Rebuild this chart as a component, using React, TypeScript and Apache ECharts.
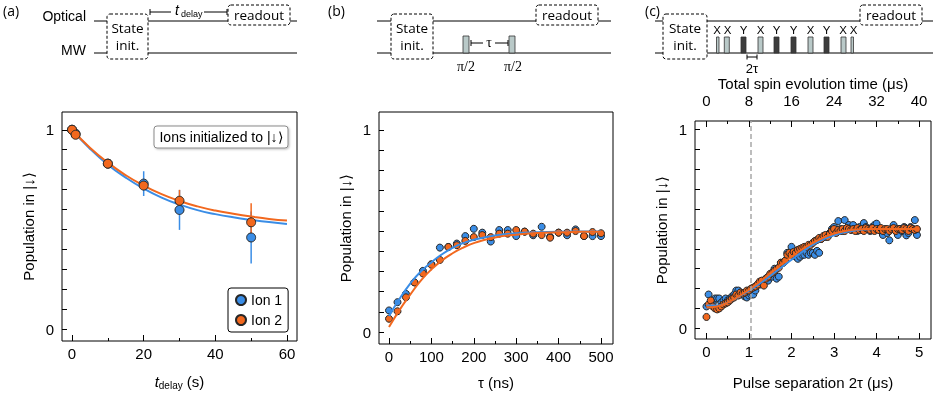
import React, { useEffect, useRef } from "react";
import * as echarts from "echarts";

const SANS = "'Liberation Sans', Arial, Helvetica, sans-serif";
const SCHEM = "'Open Sans', 'Noto Sans', sans-serif";
const SERIF = "'Liberation Serif', 'DejaVu Serif', serif";
const BLUE = "#3A8DE6";
const ORANGE = "#F2681E";
const EDGE = "#262626";

// ---------- Panel (a)
const aDelay = [0, 1, 10, 20, 30, 50];
const aIon1 = [1.0, 0.98, 0.83, 0.73, 0.598, 0.46];
const aIon2 = [1.0, 0.975, 0.83, 0.72, 0.644, 0.536];
const aIon1Err = [0, 0, 0, 0.062, 0.1, 0.13];
const aIon2Err = [0, 0, 0, 0.02, 0.055, 0.095];
const aFitDelay = [0, 5, 10, 15, 20, 25, 30, 35, 40, 45, 50, 55, 60];
const aFitIon1 = [1.0, 0.905, 0.825, 0.76, 0.705, 0.66, 0.625, 0.597, 0.577, 0.561, 0.548, 0.537, 0.528];
const aFitIon2 = [1.0, 0.91, 0.835, 0.772, 0.72, 0.677, 0.643, 0.616, 0.595, 0.579, 0.565, 0.553, 0.545];
const aXTicks = [0, 20, 40, 60];
const aXMinor = [10, 30, 50];

// ---------- Panel (b)
const bTau = [0, 20, 40, 60, 80, 100, 120, 140, 160, 180, 200, 220, 240, 260, 280, 300, 320, 340, 360, 380, 400, 420, 440, 460, 480, 500];
const bIon1 = [0.107, 0.148, 0.189, 0.246, 0.303, 0.336, 0.418, 0.421, 0.438, 0.475, 0.511, 0.492, 0.448, 0.505, 0.505, 0.475, 0.497, 0.479, 0.521, 0.472, 0.492, 0.479, 0.508, 0.475, 0.475, 0.475];
const bIon2 = [0.066, 0.103, 0.172, 0.246, 0.29, 0.333, 0.357, 0.421, 0.43, 0.451, 0.47, 0.48, 0.47, 0.487, 0.487, 0.505, 0.497, 0.487, 0.48, 0.467, 0.492, 0.492, 0.5, 0.475, 0.495, 0.489];
const bFitTau = [0, 25, 50, 75, 100, 125, 150, 175, 200, 250, 300, 350, 400, 450, 500];
const bFitIon1 = [0.08, 0.165, 0.24, 0.3, 0.345, 0.385, 0.417, 0.44, 0.457, 0.478, 0.489, 0.494, 0.497, 0.498, 0.498];
const bFitIon2 = [0.025, 0.11, 0.185, 0.255, 0.31, 0.355, 0.39, 0.418, 0.44, 0.468, 0.482, 0.49, 0.494, 0.496, 0.497];
const bXTicks = [0, 100, 200, 300, 400, 500];
const bXMinor = [50, 150, 250, 350, 450];

// ---------- Panel (c)
const cSep = [0, 0.05, 0.1, 0.15, 0.2, 0.25, 0.3, 0.35, 0.4, 0.45, 0.5, 0.55, 0.6, 0.65, 0.7, 0.75, 0.8, 0.85, 0.9, 0.95, 1, 1.05, 1.1, 1.15, 1.2, 1.25, 1.3, 1.35, 1.4, 1.45, 1.5, 1.55, 1.6, 1.65, 1.7, 1.75, 1.8, 1.85, 1.9, 1.95, 2, 2.05, 2.1, 2.15, 2.2, 2.25, 2.3, 2.35, 2.4, 2.45, 2.5, 2.55, 2.6, 2.65, 2.7, 2.75, 2.8, 2.85, 2.9, 2.95, 3, 3.05, 3.1, 3.15, 3.2, 3.25, 3.3, 3.35, 3.4, 3.45, 3.5, 3.55, 3.6, 3.65, 3.7, 3.75, 3.8, 3.85, 3.9, 3.95, 4, 4.05, 4.1, 4.15, 4.2, 4.25, 4.3, 4.35, 4.4, 4.45, 4.5, 4.55, 4.6, 4.65, 4.7, 4.75, 4.8, 4.85, 4.9, 4.95];
const cIon1 = [
  0.11, 0.17, 0.12, 0.13, 0.15, 0.15, 0.15, 0.13, 0.14, 0.15,
  0.14, 0.15, 0.16, 0.17, 0.19, 0.19, 0.18, 0.17, 0.16, 0.155,
  0.165, 0.17, 0.17, 0.19, 0.22, 0.22, 0.23, 0.24, 0.25, 0.24,
  0.26, 0.26, 0.3, 0.25, 0.26, 0.33, 0.33, 0.34, 0.38, 0.38,
  0.41, 0.37, 0.36, 0.35, 0.36, 0.37, 0.37, 0.38, 0.37, 0.38,
  0.38, 0.37, 0.39, 0.38, 0.45, 0.46, 0.46, 0.47, 0.48, 0.5,
  0.51, 0.49, 0.54, 0.5, 0.49, 0.545, 0.5, 0.52, 0.5, 0.52,
  0.5, 0.49, 0.51, 0.5, 0.53, 0.51, 0.5, 0.49, 0.51, 0.52,
  0.527, 0.5, 0.49, 0.47, 0.49, 0.48, 0.443, 0.5, 0.52, 0.49,
  0.47, 0.5, 0.49, 0.51, 0.468, 0.48, 0.51, 0.5, 0.545, 0.47,
];
const cIon2 = [
  0.057, 0.12, 0.14, 0.11, 0.1, 0.095, 0.1, 0.11, 0.12, 0.125,
  0.13, 0.14, 0.15, 0.155, 0.17, 0.165, 0.18, 0.175, 0.18, 0.19,
  0.19, 0.2, 0.205, 0.21, 0.22, 0.235, 0.24, 0.215, 0.25, 0.26,
  0.275, 0.28, 0.29, 0.3, 0.305, 0.33, 0.33, 0.34, 0.37, 0.38,
  0.37, 0.385, 0.38, 0.395, 0.4, 0.405, 0.41, 0.41, 0.42, 0.42,
  0.43, 0.44, 0.445, 0.455, 0.45, 0.465, 0.47, 0.46, 0.475, 0.49,
  0.5, 0.48, 0.495, 0.49, 0.5, 0.49, 0.505, 0.5, 0.495, 0.5,
  0.49, 0.505, 0.495, 0.5, 0.49, 0.505, 0.5, 0.495, 0.505, 0.49,
  0.5, 0.495, 0.505, 0.49, 0.5, 0.5, 0.49, 0.5, 0.505, 0.49,
  0.5, 0.5, 0.495, 0.505, 0.5, 0.49, 0.505, 0.5, 0.495, 0.5,
];
const cFitSep = [0, 0.25, 0.5, 0.75, 1, 1.25, 1.5, 1.75, 2, 2.25, 2.5, 2.75, 3, 3.25, 3.5, 3.75, 4, 4.5, 5];
const cFitIon1 = [0.115, 0.115, 0.13, 0.158, 0.19, 0.225, 0.264, 0.305, 0.345, 0.385, 0.42, 0.448, 0.468, 0.483, 0.493, 0.498, 0.5, 0.5, 0.5];
const cFitIon2 = [0.105, 0.11, 0.13, 0.16, 0.195, 0.235, 0.277, 0.32, 0.36, 0.398, 0.43, 0.457, 0.477, 0.49, 0.497, 0.5, 0.5, 0.5, 0.5];
const cMarkerSep = 1.03;
const cXTicks = [0, 1, 2, 3, 4, 5];
const cXMinor = [0.5, 1.5, 2.5, 3.5, 4.5];
const cTopTicks = [0, 8, 16, 24, 32, 40];
const cTopMinor = [4, 12, 20, 28, 36];
const cTopTitle = "Total spin evolution time (μs)";

const yTicks = [0, 0.1, 0.2, 0.3, 0.4, 0.5, 0.6, 0.7, 0.8, 0.9, 1];
const yLabels = [0, 1];

// schematic pulse sequence of panel (c)
const cPulseLabels = ["X", "X", "Y", "X", "Y", "Y", "X", "Y", "X", "X"];

const zip = (xs: number[], ys: number[]) => xs.map((x, i) => [x, ys[i]]);
const zip3 = (xs: number[], ys: number[], es: number[]) =>
  xs.map((x, i) => [x, ys[i], es[i]]).filter((d) => d[2] > 0);

const TICK_FONT = 15;
const TITLE_FONT = 15;

function xAxisPair(grid: number, min: number, max: number, major: number[], minor: number[], name: any, nameGap: number, rich?: any, position = "bottom", labelMargin = 5) {
  return [
    {
      type: "value", gridIndex: grid, min, max, position,
      axisLine: { show: false, onZero: false },
      splitLine: { show: false },
      axisTick: { show: true, inside: true, length: 6, customValues: major, lineStyle: { color: "#000", width: 1 } },
      axisLabel: { show: true, customValues: major, color: "#000", fontSize: TICK_FONT, fontFamily: SANS, margin: labelMargin },
      name, nameLocation: "middle", nameGap,
      nameTextStyle: { color: "#000", fontSize: TITLE_FONT, fontFamily: SANS, rich },
    },
    {
      type: "value", gridIndex: grid, min, max, position,
      axisLine: { show: false, onZero: false },
      splitLine: { show: false },
      axisTick: { show: true, inside: true, length: 3, customValues: minor, lineStyle: { color: "#000", width: 1 } },
      axisLabel: { show: false },
    },
  ];
}

function yAxis(grid: number, min: number, max: number) {
  return {
    type: "value", gridIndex: grid, min, max,
    axisLine: { show: false, onZero: false },
    splitLine: { show: false },
    axisTick: { show: true, inside: true, length: 5, customValues: yTicks, lineStyle: { color: "#000", width: 1 } },
    axisLabel: { customValues: yLabels, color: "#000", fontSize: TICK_FONT, fontFamily: SANS, margin: 8 },
    name: "Population in |↓⟩", nameLocation: "middle", nameGap: 26,
    nameTextStyle: { color: "#000", fontSize: TITLE_FONT, fontFamily: SANS },
  };
}

const errBar = (color: string) => (params: any, api: any) => {
  const x = api.value(0), y = api.value(1), e = api.value(2);
  const p1 = api.coord([x, y - e]);
  const p2 = api.coord([x, y + e]);
  return { type: "line", shape: { x1: p1[0], y1: p1[1], x2: p2[0], y2: p2[1] }, style: { stroke: color, lineWidth: 1.5 } };
};

// ---------- schematic helpers
const ln = (x1: number, y1: number, x2: number, y2: number) => ({
  type: "line", silent: true, shape: { x1, y1, x2, y2 }, style: { stroke: "#000", lineWidth: 1 },
});
const dbox = (x: number, y: number, w: number, h: number) => ({
  type: "rect", silent: true, shape: { x, y, width: w, height: h, r: 3 },
  style: { fill: "#fff", stroke: "#000", lineWidth: 1, lineDash: [3, 2] },
});
const txt = (x: number, y: number, text: string, size: number, extra: any = {}) => ({
  type: "text", silent: true, x, y,
  style: {
    text, fontSize: size, fontFamily: SCHEM, fill: "#000", lineHeight: size,
    textAlign: "center", textVerticalAlign: "middle", align: "center", verticalAlign: "middle",
    ...extra,
  },
});
const pulse = (x: number, y: number, w: number, h: number, dark: boolean) => ({
  type: "rect", silent: true, shape: { x, y, width: w, height: h },
  style: { fill: dark ? "#3d3d3d" : "#b9c9c8", stroke: "#333", lineWidth: 0.8 },
});

function schematic() {
  const els: any[] = [];
  // panel labels
  els.push(txt(3, 10, "(a)", 14, { textAlign: "left", align: "left" }));
  els.push(txt(328, 10, "(b)", 14, { textAlign: "left", align: "left" }));
  els.push(txt(645, 10, "(c)", 14, { textAlign: "left", align: "left" }));
  // (a)
  els.push(txt(86, 16, "Optical", 14, { textAlign: "right", align: "right", fontFamily: SANS }));
  els.push(txt(86, 50, "MW", 14, { textAlign: "right", align: "right", fontFamily: SANS }));
  els.push(ln(94, 21, 297, 21), ln(94, 53, 297, 53));
  els.push(dbox(107, 14, 41, 45), txt(127.5, 28, "State", 13.5), txt(127.5, 45, "init.", 13.5));
  els.push(dbox(228, 5, 62, 20), txt(259, 14.5, "readout", 13.5));
  els.push(ln(150, 12, 171, 12), ln(204, 12, 227, 12), ln(150, 9, 150, 15), ln(227, 9, 227, 15));
  els.push(txt(177, 10, "t", 14, { fontFamily: SANS, fontStyle: "italic" }));
  els.push(txt(181, 14, "delay", 9, { fontFamily: SANS, textAlign: "left", align: "left" }));
  // (b)
  els.push(ln(377, 21, 611, 21), ln(377, 53, 611, 53));
  els.push(dbox(391, 14, 42, 45), txt(412, 28, "State", 13.5), txt(412, 45, "init.", 13.5));
  els.push(dbox(536, 5, 62, 20), txt(567, 14.5, "readout", 13.5));
  els.push(pulse(463, 36, 6, 17, false), pulse(509, 36, 6, 17, false));
  els.push(ln(471, 43, 483, 43), ln(495, 43, 508, 43), ln(471, 40, 471, 46), ln(508, 40, 508, 46));
  els.push(txt(489, 42, "τ", 14, { fontFamily: SERIF }));
  els.push(txt(466, 66, "π/2", 14, { fontFamily: SERIF }), txt(513, 66, "π/2", 14, { fontFamily: SERIF }));
  // (c)
  els.push(ln(655, 21, 933, 21), ln(655, 53, 933, 53));
  els.push(dbox(663, 14, 44, 45), txt(685, 28, "State", 13.5), txt(685, 45, "init.", 13.5));
  els.push(dbox(860, 5, 62, 20), txt(891, 14.5, "readout", 13.5));
  const px = [716.5, 724.3, 741, 758, 774, 791, 808, 824, 841, 851];
  const pw = [2.5, 5, 5, 5, 5, 5, 5, 5, 5, 2.5];
  const lx = [717, 727.5, 743.5, 760.5, 776.5, 793.5, 810.5, 826.5, 843, 853.5];
  cPulseLabels.forEach((lab, i) => {
    els.push(pulse(px[i], 37, pw[i], 16, lab === "Y"));
    els.push(txt(lx[i], 30, lab, 11.5, { fontFamily: SANS }));
  });
  els.push(ln(747, 57, 757, 57), ln(747, 54.5, 747, 59.5), ln(757, 54.5, 757, 59.5));
  els.push(txt(752, 68.5, "2τ", 13, { fontFamily: SANS }));
  // top axis title of panel (c)
  els.push(txt(813, 83, cTopTitle, 15, { fontFamily: SANS }));
  // annotation box in (a)
  els.push({
    type: "rect", silent: true, shape: { x: 154, y: 126, width: 134, height: 22, r: 3 },
    style: { fill: "#fff", stroke: "#8a8a8a", lineWidth: 1, shadowBlur: 2, shadowColor: "rgba(0,0,0,0.25)", shadowOffsetX: 1, shadowOffsetY: 1 },
    z: 10,
  });
  els.push({ ...txt(221, 137, "Ions initialized to |↓⟩", 14, { fontFamily: SANS }), z: 11 });
  return els;
}

export default function App() {
  const ref = useRef<HTMLDivElement>(null);
  useEffect(() => {
    if (!ref.current) return;
    const chart = echarts.init(ref.current, undefined, { renderer: "svg" });
    const scatter = (name: string, data: any, color: string, xi: number, yi: number, size: number, z = 4) => ({
      type: "scatter", name, data, xAxisIndex: xi, yAxisIndex: yi, symbolSize: size, z,
      itemStyle: { color, borderColor: EDGE, borderWidth: 1, opacity: 1 },
    });
    const fit = (name: string, data: any, color: string, xi: number, yi: number, z: number) => ({
      type: "line", name, data, xAxisIndex: xi, yAxisIndex: yi, smooth: true, showSymbol: false, symbol: "none", z,
      lineStyle: { color, width: 2 },
    });
    const option: any = {
      animation: false,
      textStyle: { fontFamily: SANS },
      grid: [
        { left: 62, top: 112, width: 235, height: 233, show: true, borderColor: "#000", borderWidth: 1, backgroundColor: "transparent" },
        { left: 379, top: 112, width: 234, height: 233, show: true, borderColor: "#000", borderWidth: 1, backgroundColor: "transparent" },
        { left: 695, top: 121, width: 236, height: 223, show: true, borderColor: "#000", borderWidth: 1, backgroundColor: "transparent" },
      ],
      xAxis: [
        ...xAxisPair(0, -2.8, 62.8, aXTicks, aXMinor, "{i|t}{s|delay} (s)", 31, {
          i: { fontStyle: "italic", fontSize: 15, fontFamily: SANS },
          s: { fontSize: 10, fontFamily: SANS, padding: [8, 0, 0, 0] },
        }),
        ...xAxisPair(1, -23.6, 528.3, bXTicks, bXMinor, "τ (ns)", 31),
        ...xAxisPair(2, -0.27, 5.28, cXTicks, cXMinor, "Pulse separation 2τ (μs)", 36),
        ...xAxisPair(2, -2.16, 42.24, cTopTicks, cTopMinor, "", 25, undefined, "top", 13),
      ],
      yAxis: [yAxis(0, -0.059, 1.089), yAxis(1, -0.059, 1.089), yAxis(2, -0.054, 1.044)],
      legend: {
        left: 228, top: 288, orient: "vertical",
        backgroundColor: "#fff", borderColor: "#000", borderWidth: 1, borderRadius: 3,
        padding: [5, 6, 5, 7], itemGap: 6, itemWidth: 10, itemHeight: 10,
        textStyle: { fontSize: 14, color: "#000", fontFamily: SANS },
        data: [{ name: "Ion 1", icon: "circle" }, { name: "Ion 2", icon: "circle" }],
        selectedMode: false,
      },
      graphic: schematic(),
      series: [
        // (a)
        { type: "custom", name: "a err 1", xAxisIndex: 0, yAxisIndex: 0, z: 2, renderItem: errBar(BLUE), data: zip3(aDelay, aIon1, aIon1Err), encode: { x: 0, y: 1 } },
        { type: "custom", name: "a err 2", xAxisIndex: 0, yAxisIndex: 0, z: 2, renderItem: errBar(ORANGE), data: zip3(aDelay, aIon2, aIon2Err), encode: { x: 0, y: 1 } },
        fit("a fit 1", zip(aFitDelay, aFitIon1), BLUE, 0, 0, 3),
        fit("a fit 2", zip(aFitDelay, aFitIon2), ORANGE, 0, 0, 3),
        scatter("Ion 1", zip(aDelay, aIon1), BLUE, 0, 0, 9),
        scatter("Ion 2", zip(aDelay, aIon2), ORANGE, 0, 0, 9),
        // (b)
        scatter("b Ion 1", zip(bTau, bIon1), BLUE, 2, 1, 7, 3),
        scatter("b Ion 2", zip(bTau, bIon2), ORANGE, 2, 1, 7, 3),
        fit("b fit 1", zip(bFitTau, bFitIon1), BLUE, 2, 1, 4),
        fit("b fit 2", zip(bFitTau, bFitIon2), ORANGE, 2, 1, 4),
        // (c)
        scatter("c Ion 1", zip(cSep, cIon1), BLUE, 4, 2, 7, 3),
        scatter("c Ion 2", zip(cSep, cIon2), ORANGE, 4, 2, 7, 3),
        {
          ...fit("c fit 1", zip(cFitSep, cFitIon1), BLUE, 4, 2, 4),
          markLine: {
            silent: true, symbol: "none", label: { show: false },
            lineStyle: { color: "#a8a8a8", type: [5, 3], width: 1.5 },
            data: [{ xAxis: cMarkerSep }],
          },
        },
        fit("c fit 2", zip(cFitSep, cFitIon2), ORANGE, 4, 2, 4),
      ],
    };
    chart.setOption(option);
    return () => chart.dispose();
  }, []);
  return <div ref={ref} style={{ position: "fixed", left: 0, top: 0, width: 933, height: 395 }} />;
}
